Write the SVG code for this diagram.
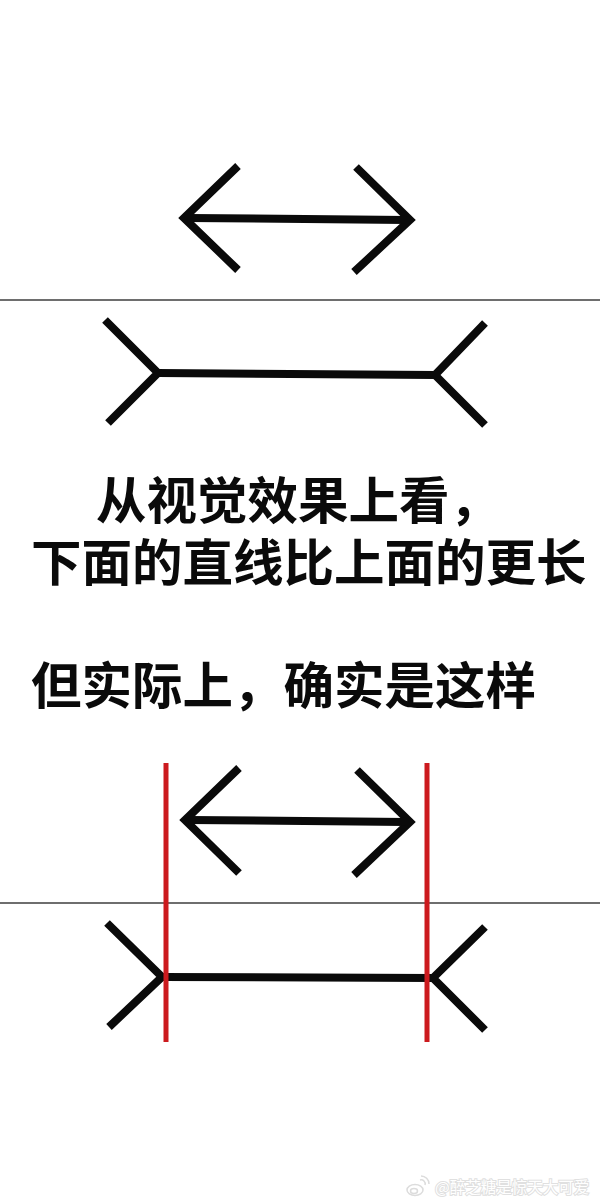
<svg xmlns="http://www.w3.org/2000/svg" width="600" height="1203" viewBox="0 0 600 1203">
  <style>
    .fig { fill: none; stroke: #0a0a0a; stroke-width: 8; stroke-linecap: butt; stroke-linejoin: miter; stroke-miterlimit: 10; }
    .sep { stroke: #6e6e6e; stroke-width: 2; }
    .red { stroke: #cc1a1e; stroke-width: 5; }
    .cap { font-family: "Noto Sans CJK SC", "Noto Sans", sans-serif; font-weight: 700; font-size: 50.5px; fill: #0a0a0a; }
    .wm { font-family: "Noto Sans CJK SC", sans-serif; font-size: 15.5px; fill: #ffffff; stroke: #e0e0e0; stroke-width: 2; paint-order: stroke; }
  </style>
  <rect width="600" height="1203" fill="#ffffff"/>

  <g id="top-panel">
    <g id="top-arrow">
      <polyline class="fig" points="238,166 184,218 238,270"/>
      <polyline class="fig" points="356,167 410,220 354,272"/>
      <line class="fig" x1="188" y1="218" x2="406" y2="220"/>
    </g>
    <line id="separator-1" class="sep" x1="0" y1="300" x2="600" y2="300"/>
    <g id="top-fins">
      <polyline class="fig" points="105,320 158,373 108,423"/>
      <polyline class="fig" points="485,323 435,375 485,425"/>
      <line class="fig" x1="158" y1="373" x2="435" y2="375"/>
    </g>
  </g>

  <g id="caption">
    <text class="cap" x="96" y="519">从视觉效果上看，</text>
    <text class="cap" x="31" y="581">下面的直线比上面的更长</text>
    <text class="cap" x="31" y="704">但实际上，确实是这样</text>
  </g>

  <g id="bottom-panel">
    <g id="bottom-arrow">
      <polyline class="fig" points="239,768 185,820 239,873"/>
      <polyline class="fig" points="357,770 410,822 354,875"/>
      <line class="fig" x1="189" y1="820" x2="406" y2="822"/>
    </g>
    <line id="separator-2" class="sep" x1="0" y1="903" x2="600" y2="903"/>
    <g id="bottom-fins">
      <polyline class="fig" points="107,923 162,977 109,1027"/>
      <polyline class="fig" points="485,927 433,978 485,1030"/>
      <line class="fig" x1="162" y1="977" x2="433" y2="978"/>
    </g>
    <g id="guides">
      <line class="red" x1="166" y1="763" x2="166" y2="1042"/>
      <line class="red" x1="427" y1="763" x2="427" y2="1042"/>
    </g>
  </g>

  <g id="watermark">
    <g fill="none" stroke="#dcdcdc" stroke-width="1.5">
      <ellipse cx="415" cy="1190" rx="8" ry="5.5"/>
      <ellipse cx="414" cy="1191" rx="3.5" ry="2.5"/>
      <path d="M420,1180 a4,4 0 0 1 5,5"/>
      <path d="M421,1176 a8,8 0 0 1 8,8"/>
    </g>
    <text class="wm" x="435" y="1193">@醉芝糖是惊天大可爱</text>
  </g>
</svg>
